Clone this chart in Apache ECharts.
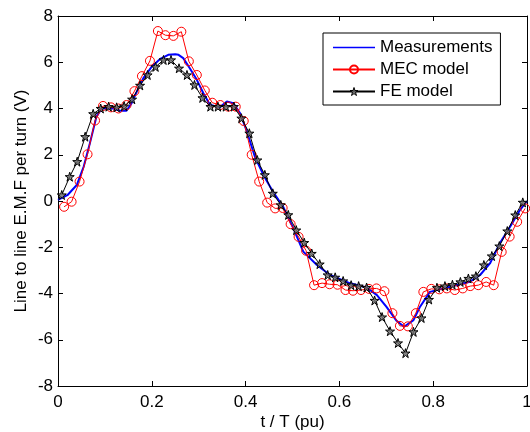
<!DOCTYPE html>
<html>
<head>
<meta charset="utf-8">
<script src="https://cdn.jsdelivr.net/npm/echarts@6/dist/echarts.min.js"></script>
<style>
html,body{margin:0;padding:0;background:#fff;}
#chart{width:530px;height:432px;}
</style>
</head>
<body>
<div id="chart"></div>
<script>
// ---- data ----
var xTicks = [0, 0.2, 0.4, 0.6, 0.8, 1];
var yTicks = [-8, -6, -4, -2, 0, 2, 4, 6, 8];

var tMeas = [0, 0.02, 0.04, 0.055, 0.068, 0.082, 0.093, 0.118, 0.132, 0.146, 0.157, 0.168, 0.182, 0.2, 0.217, 0.235, 0.25, 0.257, 0.267, 0.281, 0.296, 0.31, 0.324, 0.345, 0.36, 0.374, 0.388, 0.402, 0.42, 0.44, 0.46, 0.48, 0.5, 0.523, 0.552, 0.58, 0.623, 0.658, 0.68, 0.7, 0.722, 0.738, 0.758, 0.772, 0.793, 0.836, 0.878, 0.9, 0.921, 0.942, 0.964, 0.985, 1.0];
var vMeas = [0.05, 0.25, 0.69, 1.5, 2.5, 3.65, 4.0, 4.0, 3.9, 3.9, 4.23, 4.73, 5.31, 5.81, 6.13, 6.32, 6.35, 6.32, 6.18, 5.74, 5.24, 4.66, 4.16, 4.05, 4.3, 4.23, 3.8, 3.05, 1.9, 1.05, 0.35, -0.25, -1.1, -2.19, -2.77, -3.2, -3.56, -3.74, -4.07, -4.57, -5.18, -5.44, -5.15, -4.57, -3.93, -3.71, -3.49, -3.2, -2.7, -1.83, -1.11, -0.39, 0.0];

var tMEC = [0.013, 0.029, 0.046, 0.063, 0.079, 0.096, 0.113, 0.129, 0.146, 0.163, 0.179, 0.196, 0.213, 0.229, 0.246, 0.263, 0.279, 0.296, 0.313, 0.329, 0.346, 0.363, 0.379, 0.396, 0.413, 0.429, 0.446, 0.463, 0.479, 0.496, 0.513, 0.529, 0.546, 0.563, 0.579, 0.596, 0.613, 0.629, 0.646, 0.663, 0.679, 0.696, 0.713, 0.729, 0.746, 0.763, 0.779, 0.796, 0.813, 0.829, 0.846, 0.863, 0.879, 0.896, 0.913, 0.929, 0.946, 0.963, 0.979, 0.996];
var vMEC = [-0.25, -0.03, 0.84, 2.02, 3.48, 4.11, 4.05, 4.0, 4.15, 4.75, 5.4, 6.06, 7.35, 7.17, 7.14, 7.32, 6.04, 5.45, 4.78, 4.25, 4.15, 4.08, 4.08, 3.46, 2.0, 0.84, -0.07, -0.32, -0.3, -1.0, -1.55, -2.15, -3.64, -3.55, -3.6, -3.62, -3.85, -3.88, -3.85, -3.8, -3.78, -3.9, -4.85, -5.4, -5.42, -4.85, -3.93, -3.8, -3.82, -3.78, -3.85, -3.78, -3.68, -3.64, -3.5, -3.64, -2.2, -1.54, -0.9, -0.32];

var tFE = [0.008, 0.025, 0.041, 0.058, 0.075, 0.091, 0.108, 0.125, 0.141, 0.158, 0.175, 0.191, 0.208, 0.225, 0.241, 0.258, 0.275, 0.291, 0.308, 0.325, 0.341, 0.358, 0.375, 0.391, 0.408, 0.425, 0.441, 0.458, 0.475, 0.491, 0.508, 0.525, 0.541, 0.558, 0.575, 0.591, 0.608, 0.625, 0.641, 0.658, 0.675, 0.691, 0.708, 0.725, 0.741, 0.758, 0.775, 0.791, 0.808, 0.825, 0.841, 0.858, 0.875, 0.891, 0.908, 0.925, 0.941, 0.958, 0.975, 0.991];
var vFE = [0.26, 1.05, 1.7, 2.78, 3.77, 4.0, 4.08, 4.05, 4.1, 4.4, 5.0, 5.45, 5.8, 6.1, 6.1, 5.74, 5.45, 5.02, 4.46, 4.08, 4.08, 4.08, 4.08, 3.58, 2.93, 1.77, 1.13, 0.33, -0.17, -0.6, -1.26, -1.8, -2.27, -2.73, -3.2, -3.3, -3.46, -3.64, -3.68, -3.74, -4.3, -5.02, -5.63, -6.14, -6.58, -5.66, -5.06, -4.26, -3.75, -3.68, -3.62, -3.5, -3.35, -3.25, -2.77, -2.38, -1.95, -1.3, -0.61, -0.06];

var seriesNames = ['Measurements', 'MEC model', 'FE model'];
var xName = 't / T (pu)';
var yName = 'Line to line E.M.F per turn (V)';

function pairs(t, v) { return t.map(function (x, i) { return [x, v[i]]; }); }

var starPath = 'path://M50 0 L61.23 34.55 L97.55 34.55 L68.17 55.9 L79.39 90.45 L50 69.1 L20.61 90.45 L31.83 55.9 L2.45 34.55 L38.77 34.55 Z';
var linePath = 'path://M0 0 L42 0 L42 1.5 L0 1.5 Z';
var FONT = 'Liberation Sans, Arial, sans-serif';

var chart = echarts.init(document.getElementById('chart'), null, {renderer: 'canvas'});

var axisCommon = {
  axisLine: {show: true, onZero: false, lineStyle: {color: '#000', width: 1}},
  axisTick: {show: true, inside: true, length: 5, lineStyle: {color: '#000', width: 1}},
  splitLine: {show: false}
};

chart.setOption({
  animation: false,
  backgroundColor: '#fff',
  textStyle: {fontFamily: FONT},
  grid: {left: 58, top: 16, right: 3, bottom: 46, containLabel: false, outerBoundsMode: 'none'},
  legend: {
    orient: 'vertical',
    left: 323, top: 33,
    padding: [6, 8, 5, 9],
    itemGap: 5,
    itemWidth: 42, itemHeight: 10,
    borderColor: '#000', borderWidth: 1,
    backgroundColor: '#fff',
    textStyle: {fontFamily: FONT, fontSize: 17, color: '#000'},
    data: [
      {name: seriesNames[0], icon: linePath, itemStyle: {color: '#0000ff', borderWidth: 0}},
      {name: seriesNames[1]},
      {name: seriesNames[2], itemStyle: {color: 'rgba(110,110,110,0.8)', borderColor: '#000', borderWidth: 1}}
    ]
  },
  xAxis: [
    Object.assign({
      type: 'value', position: 'bottom', min: xTicks[0], max: xTicks[xTicks.length - 1], interval: 0.2,
      name: xName, nameLocation: 'middle', nameGap: 28, nameMoveOverlap: false,
      nameTextStyle: {fontFamily: FONT, fontSize: 17, color: '#000'},
      axisLabel: {fontFamily: FONT, fontSize: 17, color: '#000', margin: 8,
        formatter: function (v) { return String(+v.toFixed(1)); }}
    }, axisCommon),
    Object.assign({
      type: 'value', position: 'top', min: 0, max: 1, interval: 0.2,
      axisLabel: {show: false}
    }, axisCommon)
  ],
  yAxis: [
    Object.assign({
      type: 'value', position: 'left', min: yTicks[0], max: yTicks[yTicks.length - 1], interval: 2,
      name: yName, nameLocation: 'middle', nameGap: 28, nameRotate: 90, nameMoveOverlap: false,
      nameTextStyle: {fontFamily: FONT, fontSize: 17, color: '#000'},
      axisLabel: {fontFamily: FONT, fontSize: 17, color: '#000', margin: 5}
    }, axisCommon),
    Object.assign({
      type: 'value', position: 'right', min: -8, max: 8, interval: 2,
      axisLabel: {show: false}
    }, axisCommon)
  ],
  series: [
    {
      name: seriesNames[0], type: 'line', data: pairs(tMeas, vMeas),
      showSymbol: false, symbol: 'none',
      lineStyle: {color: '#0000ff', width: 2},
      itemStyle: {color: '#0000ff'},
      z: 2
    },
    {
      name: seriesNames[1], type: 'line', data: pairs(tMEC, vMEC),
      symbol: 'circle', symbolSize: 9, showSymbol: true,
      lineStyle: {color: '#ff0000', width: 1},
      itemStyle: {color: 'rgba(255,255,255,0)', borderColor: '#ff0000', borderWidth: 1},
      z: 3
    },
    {
      name: seriesNames[2], type: 'line', data: pairs(tFE, vFE),
      symbol: starPath, symbolSize: 9, showSymbol: true,
      lineStyle: {color: '#000', width: 1},
      itemStyle: {color: 'rgba(110,110,110,0.8)', borderColor: '#000', borderWidth: 1},
      z: 4
    }
  ]
});
</script>
</body>
</html>
